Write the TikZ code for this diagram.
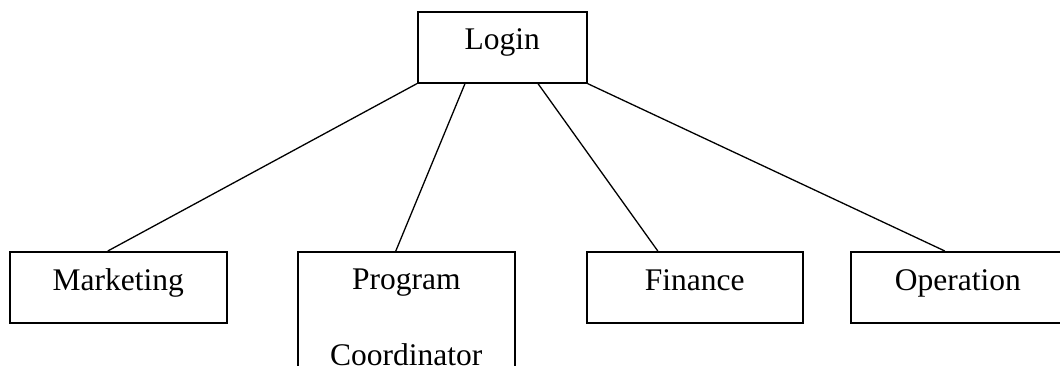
\documentclass[tikz,border=0pt]{standalone}
\usepackage{fontspec}
\setmainfont{Liberation Serif}
\usetikzlibrary{calc}
\tikzset{
  boxnode/.style={draw=black, line width=1.6pt, rectangle, inner sep=0pt, anchor=north west},
  txt/.style={anchor=base, inner sep=0pt, font=\fontsize{31.5}{38}\selectfont},
  conn/.style={draw=black, line width=1.3pt}
}
\begin{document}
\begin{tikzpicture}
\useasboundingbox (0,0) rectangle (1060pt,-366pt);
\clip (0,0) rectangle (1060pt,-366pt);
\fill[white] (0,0) rectangle (1060pt,-366pt);
% boxes
\node[boxnode, minimum width=169pt, minimum height=71pt] (login) at (417pt,-11pt) {};
\node[boxnode, minimum width=217pt, minimum height=71pt] (mkt) at (9pt,-251pt) {};
\node[boxnode, minimum width=217pt, minimum height=160pt] (prog) at (297pt,-251pt) {};
\node[boxnode, minimum width=216pt, minimum height=71pt] (fin) at (586pt,-251pt) {};
\node[boxnode, minimum width=214pt, minimum height=71pt] (ops) at (850pt,-251pt) {};
% texts
\node[txt] (logint) at ($(login.north)+(0,-39pt)$) {Login};
\node[txt] (mktt) at ($(mkt.north)+(0,-39pt)$) {Marketing};
\node[txt] (progt) at ($(prog.north)+(0,-38pt)$) {Program};
\node[txt] (progt2) at ($(prog.north)+(0,-114pt)$) {Coordinator};
\node[txt] (fint) at ($(fin.north)+(0,-39pt)$) {Finance};
\node[txt] (opst) at ($(ops.north)+(0,-39pt)$) {Operation};
% connectors
\draw[conn] (login.south west) -- ($(mkt.north)+(-10.5pt,0)$);
\draw[conn] ($(login.south west)+(48pt,0)$) -- ($(prog.north)+(-10.5pt,0)$);
\draw[conn] ($(login.south west)+(121pt,0)$) -- ($(fin.north)+(-37pt,0)$);
\draw[conn] (login.south east) -- ($(ops.north)+(-13pt,0)$);
\end{tikzpicture}
\end{document}
